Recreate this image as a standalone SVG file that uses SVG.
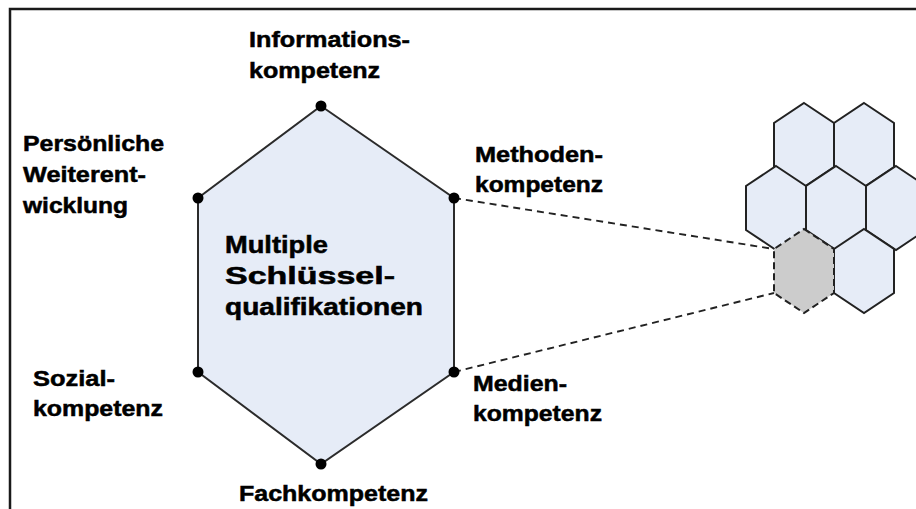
<svg xmlns="http://www.w3.org/2000/svg" width="916" height="509" viewBox="0 0 916 509">
  <style>
    .bg { fill: #ffffff; }
    .frame { fill: none; stroke: #1a1a1a; stroke-width: 2.5; }
    .hex { fill: #e6ecf7; stroke: #2b2b2b; stroke-width: 2; stroke-linejoin: miter; }
    .cell { fill: #e6ecf7; stroke: #222222; stroke-width: 2; }
    .cell-sel { fill: #cccccc; stroke: #222222; stroke-width: 2; stroke-dasharray: 7 4; }
    .dash { fill: none; stroke: #222222; stroke-width: 1.9; stroke-dasharray: 7 5; }
    .dot { fill: #000000; }
    .lbl { font-family: "Liberation Sans", Arial, sans-serif; font-weight: bold; font-size: 22px; fill: #000000; stroke: #000000; stroke-width: 0.5; }
    .big { font-size: 23px; }
  </style>
  <defs>
    <path id="cellShape" d="M0,-42 L30,-22 L30,22 L0,42 L-30,22 L-30,-22 Z"/>
  </defs>

  <rect class="bg" x="0" y="0" width="916" height="509"/>
  <rect class="frame" x="10" y="9" width="940" height="540"/>

  <!-- central hexagon -->
  <g id="hexagon">
    <polygon class="hex" points="321,106 454,198 454,372 321,464 198,372 198,198"/>
    <text class="lbl big">
      <tspan x="225" y="253" textLength="103" lengthAdjust="spacingAndGlyphs">Multiple</tspan>
      <tspan x="225" y="284" textLength="170" lengthAdjust="spacingAndGlyphs">Schlüssel-</tspan>
      <tspan x="225" y="315" textLength="198" lengthAdjust="spacingAndGlyphs">qualifikationen</tspan>
    </text>
  </g>

  <!-- honeycomb -->
  <g id="honeycomb">
    <use href="#cellShape" class="cell" x="804" y="145"/>
    <use href="#cellShape" class="cell" x="864" y="145"/>
    <use href="#cellShape" class="cell" x="776" y="208"/>
    <use href="#cellShape" class="cell" x="836" y="208"/>
    <use href="#cellShape" class="cell" x="896" y="208"/>
    <use href="#cellShape" class="cell" x="864" y="271"/>
  </g>
  <g id="selected-cell">
    <use href="#cellShape" class="cell-sel" x="804" y="271"/>
  </g>

  <!-- connectors -->
  <g id="connectors">
    <line class="dash" x1="454" y1="198" x2="774" y2="249"/>
    <line class="dash" x1="454" y1="372" x2="774" y2="293"/>
  </g>

  <!-- vertex points with labels -->
  <g id="informationskompetenz">
    <circle class="dot" cx="321" cy="106" r="5.5"/>
    <text class="lbl">
      <tspan x="249" y="47" textLength="161" lengthAdjust="spacingAndGlyphs">Informations-</tspan>
      <tspan x="249" y="78" textLength="131" lengthAdjust="spacingAndGlyphs">kompetenz</tspan>
    </text>
  </g>
  <g id="methodenkompetenz">
    <circle class="dot" cx="454" cy="198" r="5.5"/>
    <text class="lbl">
      <tspan x="475" y="162" textLength="128" lengthAdjust="spacingAndGlyphs">Methoden-</tspan>
      <tspan x="475" y="192" textLength="128" lengthAdjust="spacingAndGlyphs">kompetenz</tspan>
    </text>
  </g>
  <g id="medienkompetenz">
    <circle class="dot" cx="454" cy="372" r="5.5"/>
    <text class="lbl">
      <tspan x="473" y="391" textLength="94" lengthAdjust="spacingAndGlyphs">Medien-</tspan>
      <tspan x="473" y="421" textLength="129" lengthAdjust="spacingAndGlyphs">kompetenz</tspan>
    </text>
  </g>
  <g id="fachkompetenz">
    <circle class="dot" cx="321" cy="464" r="5.5"/>
    <text class="lbl">
      <tspan x="239" y="501" textLength="189" lengthAdjust="spacingAndGlyphs">Fachkompetenz</tspan>
    </text>
  </g>
  <g id="sozialkompetenz">
    <circle class="dot" cx="198" cy="372" r="5.5"/>
    <text class="lbl">
      <tspan x="33" y="386" textLength="82" lengthAdjust="spacingAndGlyphs">Sozial-</tspan>
      <tspan x="33" y="416" textLength="130" lengthAdjust="spacingAndGlyphs">kompetenz</tspan>
    </text>
  </g>
  <g id="weiterentwicklung">
    <circle class="dot" cx="198" cy="198" r="5.5"/>
    <text class="lbl">
      <tspan x="23" y="151" textLength="141" lengthAdjust="spacingAndGlyphs">Persönliche</tspan>
      <tspan x="23" y="182" textLength="123" lengthAdjust="spacingAndGlyphs">Weiterent-</tspan>
      <tspan x="23" y="213" textLength="105" lengthAdjust="spacingAndGlyphs">wicklung</tspan>
    </text>
  </g>
</svg>
